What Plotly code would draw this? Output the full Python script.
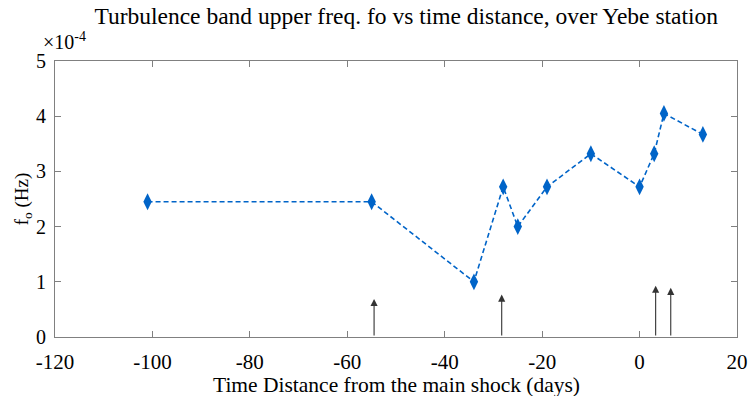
import plotly.graph_objects as go

# Data (x: days from main shock, y: fo in units of 1e-4 Hz)
days = [-101, -55, -34, -28, -25, -19, -10, 0, 3, 5, 13]
fo = [2.45, 2.45, 1.0, 2.72, 2.0, 2.72, 3.32, 2.72, 3.32, 4.05, 3.67]

# Arrow markers (events)
arrow_x = [-54.5, -28.3, 3.3, 6.4]
arrow_h = [0.69, 0.77, 0.93, 0.89]

x_ticks = [-120, -100, -80, -60, -40, -20, 0, 20]
y_ticks = [0, 1, 2, 3, 4, 5]

blue = "#0064C8"
serif = "Liberation Serif, Times New Roman, serif"

fig = go.Figure()
fig.add_trace(go.Scatter(
    x=days, y=fo, mode="lines+markers",
    line=dict(color=blue, width=1.6, dash="5px,3px"),
    marker=dict(symbol="diamond-tall", size=12, color=blue),
    showlegend=False, hoverinfo="x+y",
))

for xa, ha in zip(arrow_x, arrow_h):
    fig.add_annotation(
        x=xa, y=ha, ax=xa, ay=0, xref="x", yref="y", axref="x", ayref="y",
        showarrow=True, arrowhead=2, arrowsize=1.3, arrowwidth=1.1,
        arrowcolor="#333333", text="",
    )

fig.add_annotation(
    text="×10<sup>-4</sup>", xref="paper", yref="paper", x=0.014, y=1.0,
    xanchor="center", yanchor="bottom", yshift=6, showarrow=False,
    font=dict(family=serif, size=20, color="black"),
)

# x-axis title as annotation for precise placement
fig.add_annotation(
    text="Time Distance from the main shock (days)", xref="paper", yref="paper",
    x=0.5, y=0, xanchor="center", yanchor="top", yshift=-35, showarrow=False,
    borderpad=0, font=dict(family=serif, size=21.5, color="black"),
)

fig.update_layout(
    width=751, height=396,
    margin=dict(l=55, r=14, t=61, b=59),
    paper_bgcolor="white", plot_bgcolor="white",
    title=dict(
        text="Turbulence band upper freq. fo vs time distance, over Yebe station",
        x=0.515, xref="paper", xanchor="center",
        y=1 - 16 / 396, yref="container", yanchor="middle",
        font=dict(family=serif, size=23.5, color="black"),
    ),
    font=dict(family=serif, size=20, color="black"),
    xaxis=dict(
        range=[-120, 20], tickvals=x_ticks, ticktext=[str(v) for v in x_ticks],
        ticks="inside", ticklen=6, tickcolor="#808080", tickwidth=1,
        showline=True, linecolor="#808080", linewidth=1, mirror="ticks",
        showgrid=False, zeroline=False, ticklabelstandoff=6, automargin=False,
        tickfont=dict(family=serif, size=21),
    ),
    yaxis=dict(
        range=[0, 5], tickvals=y_ticks, ticktext=[str(v) for v in y_ticks],
        ticks="inside", ticklen=6, tickcolor="#808080", tickwidth=1,
        showline=True, linecolor="#808080", linewidth=1, mirror="ticks",
        showgrid=False, zeroline=False, ticklabelstandoff=4, automargin=False,
        title=dict(text="f<sub>o</sub> (Hz)", standoff=2,
                   font=dict(family=serif, size=19)),
        tickfont=dict(family=serif, size=20),
    ),
)

fig.write_html("out.html", config={"displayModeBar": False},
               post_script="document.body.style.margin='0';")
